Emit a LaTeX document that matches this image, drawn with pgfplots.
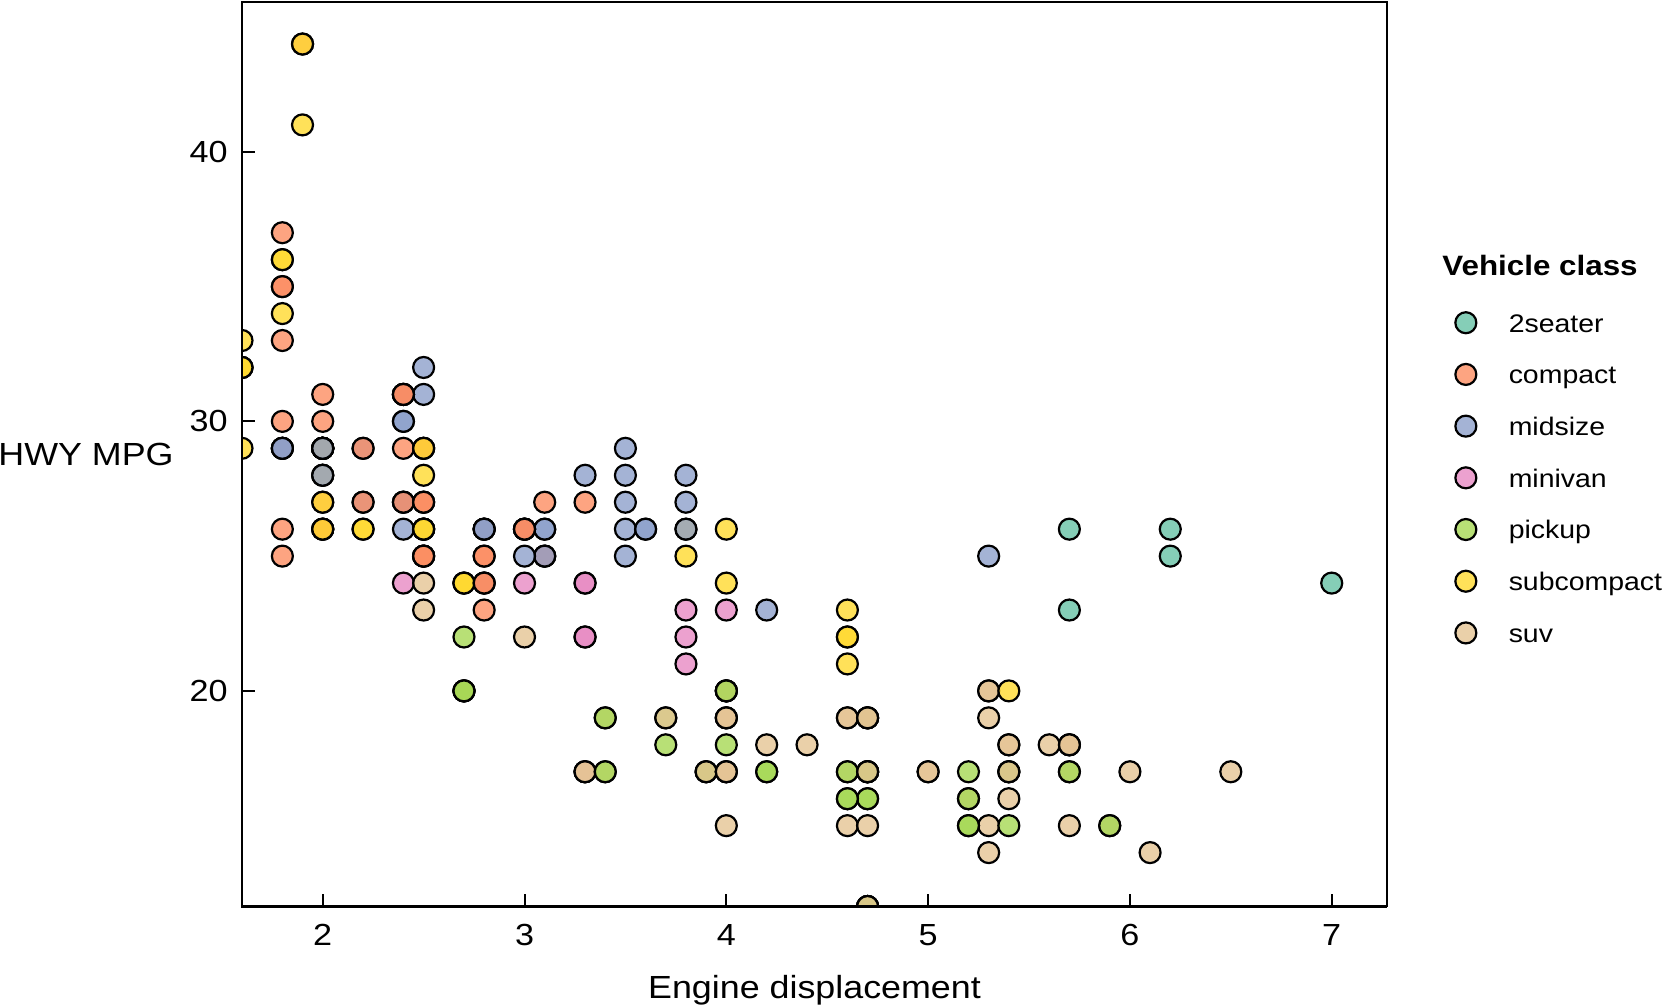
\documentclass[border=0pt]{standalone}
\usepackage{pgfplots}
\pgfplotsset{compat=1.18}
\usepackage{pgfplotstable}
\usepackage{fontspec}
\setmainfont{Liberation Sans}[FakeStretch=1.12]
\definecolor{ctwo}{HTML}{66C2A5}
\definecolor{ccomp}{HTML}{FC8D62}
\definecolor{cmid}{HTML}{8DA0CB}
\definecolor{cmini}{HTML}{E78AC3}
\definecolor{cpick}{HTML}{A6D854}
\definecolor{csub}{HTML}{FFD92F}
\definecolor{csuv}{HTML}{E5C494}
\pgfplotstableread{
x y c
1.8 29 compact
1.8 29 compact
2.0 31 compact
2.0 30 compact
2.8 26 compact
2.8 26 compact
3.1 27 compact
1.8 26 compact
1.8 25 compact
2.0 28 compact
2.0 27 compact
2.8 25 compact
2.8 25 compact
3.1 25 compact
3.1 25 compact
2.8 24 midsize
3.1 25 midsize
4.2 23 midsize
5.3 20 suv
5.3 15 suv
5.3 20 suv
5.7 17 suv
6.0 17 suv
5.7 26 twoseater
5.7 23 twoseater
6.2 26 twoseater
6.2 25 twoseater
7.0 24 twoseater
5.3 19 suv
5.3 14 suv
5.7 15 suv
6.5 17 suv
2.4 27 midsize
2.4 30 midsize
3.1 26 midsize
3.5 29 midsize
3.6 26 midsize
2.4 24 minivan
3.0 24 minivan
3.3 22 minivan
3.3 22 minivan
3.3 24 minivan
3.3 24 minivan
3.3 17 minivan
3.8 22 minivan
3.8 21 minivan
3.8 23 minivan
4.0 23 minivan
3.7 19 pickup
3.7 18 pickup
3.9 17 pickup
3.9 17 pickup
4.7 19 pickup
4.7 19 pickup
4.7 12 pickup
5.2 17 pickup
5.2 15 pickup
3.9 17 suv
4.7 17 suv
4.7 12 suv
4.7 17 suv
5.2 16 suv
5.7 18 suv
5.9 15 suv
4.7 16 pickup
4.7 12 pickup
4.7 17 pickup
4.7 17 pickup
4.7 16 pickup
4.7 12 pickup
5.2 15 pickup
5.2 16 pickup
5.7 17 pickup
5.9 15 pickup
4.6 17 suv
5.4 17 suv
5.4 18 suv
4.0 17 suv
4.0 19 suv
4.0 17 suv
4.0 19 suv
4.6 19 suv
5.0 17 suv
4.2 17 pickup
4.2 17 pickup
4.6 16 pickup
4.6 16 pickup
4.6 17 pickup
5.4 15 pickup
5.4 17 pickup
3.8 26 subcompact
3.8 25 subcompact
4.0 26 subcompact
4.0 24 subcompact
4.6 21 subcompact
4.6 22 subcompact
4.6 23 subcompact
4.6 22 subcompact
5.4 20 subcompact
1.6 33 subcompact
1.6 32 subcompact
1.6 32 subcompact
1.6 29 subcompact
1.6 32 subcompact
1.8 34 subcompact
1.8 36 subcompact
1.8 36 subcompact
2.0 29 subcompact
2.4 26 midsize
2.4 27 midsize
2.4 30 midsize
2.4 31 midsize
2.5 26 midsize
2.5 26 midsize
3.3 28 midsize
2.0 26 subcompact
2.0 29 subcompact
2.0 28 subcompact
2.0 27 subcompact
2.7 24 subcompact
2.7 24 subcompact
2.7 24 subcompact
3.0 22 suv
3.7 19 suv
4.0 20 suv
4.7 17 suv
4.7 12 suv
4.7 19 suv
5.7 18 suv
6.1 14 suv
4.0 15 suv
4.2 18 suv
4.4 18 suv
4.6 15 suv
5.4 17 suv
5.4 16 suv
5.4 18 suv
4.0 17 suv
4.0 19 suv
4.6 19 suv
5.0 17 suv
2.4 29 compact
2.4 27 compact
2.5 31 midsize
2.5 32 midsize
3.5 27 midsize
3.5 26 midsize
3.0 26 midsize
3.0 25 midsize
3.5 25 midsize
3.3 17 suv
3.3 17 suv
4.0 20 suv
5.6 18 suv
3.1 26 midsize
3.8 26 midsize
3.8 27 midsize
3.8 28 midsize
5.3 25 midsize
2.5 25 suv
2.5 24 suv
2.5 27 suv
2.5 25 suv
2.5 26 suv
2.5 23 suv
2.2 26 subcompact
2.2 26 subcompact
2.5 26 subcompact
2.5 26 subcompact
2.5 27 compact
2.5 25 compact
2.5 27 compact
2.5 25 compact
2.7 20 suv
2.7 20 suv
3.4 19 suv
3.4 17 suv
4.0 20 suv
4.7 19 suv
2.2 27 midsize
2.2 29 midsize
2.4 31 midsize
2.4 31 midsize
3.0 26 midsize
3.0 26 midsize
3.5 28 midsize
2.2 27 compact
2.2 29 compact
2.4 31 compact
2.4 31 compact
3.0 26 compact
3.0 26 compact
3.3 27 compact
1.8 30 compact
1.8 33 compact
1.8 35 compact
1.8 37 compact
1.8 35 compact
4.7 15 suv
5.7 18 suv
2.7 20 pickup
2.7 20 pickup
2.7 22 pickup
3.4 17 pickup
3.4 19 pickup
4.0 18 pickup
4.0 20 pickup
2.0 29 compact
2.0 26 compact
2.0 29 compact
2.0 29 compact
2.8 24 compact
1.9 44 compact
2.0 29 compact
2.0 26 compact
2.0 29 compact
2.0 29 compact
2.5 29 compact
2.5 29 compact
2.8 23 compact
2.8 24 compact
1.9 44 subcompact
1.9 41 subcompact
2.0 29 subcompact
2.0 26 subcompact
2.5 28 subcompact
2.5 29 subcompact
1.8 29 midsize
1.8 29 midsize
2.0 28 midsize
2.0 29 midsize
2.8 26 midsize
2.8 26 midsize
3.6 26 midsize
}\mpg
\tikzset{dotmark/.style={mark=*, draw=black, line width=1.1pt, fill opacity=0.8, fill=#1}}
\begin{document}
\begin{tikzpicture}
\useasboundingbox (0pt,0pt) rectangle (832.5pt,-503pt);
\clip (0pt,0pt) rectangle (832.5pt,-503pt);
\begin{axis}[
  at={(121pt,-453.25pt)}, anchor=south west,
  width=572.5pt, height=452.25pt, scale only axis,
  xmin=1.6, xmax=7.274, ymin=12, ymax=45.56,
  clip marker paths=true,
  xtick={2,3,4,5,6,7}, ytick={20,30,40},
  tick pos=left,
  tick align=inside, major tick length=6.5pt,
  tick style={line width=1pt, black},
  axis line style={line width=0.75pt},
  /pgf/number format/assume math mode=true,
  ticklabel style={font=\fontsize{15.25}{15.25}\selectfont, inner sep=0pt},
  xticklabel style={anchor=base, yshift=-19.25pt},
  yticklabel style={anchor=east, xshift=-7pt},
  xlabel={Engine displacement},
  ylabel={HWY MPG},
  label style={font=\fontsize{16}{16}\selectfont, inner sep=0pt},
  xlabel style={at={(axis description cs:0.5,0)}, anchor=base, yshift=-45.75pt},
  ylabel style={rotate=-90, at={(axis description cs:0,0.5)}, anchor=east, xshift=-34pt},
  mark size=5.25pt,
  legend style={at={(axis description cs:1.0597,0.6637)}, anchor=north west,
    draw=none, fill=none, inner sep=0pt, outer sep=0pt, row sep=0pt, column sep=16.2pt,
    font=\fontsize{12.7}{12.7}\selectfont,
    nodes={inner sep=0pt, text height=12.925pt, text depth=12.925pt}},
  legend cell align=left,
  legend image code/.code={\draw[#1] plot coordinates {(0pt,4.65pt)};},
  scatter/classes={
    twoseater={dotmark=ctwo},
    compact={dotmark=ccomp},
    midsize={dotmark=cmid},
    minivan={dotmark=cmini},
    pickup={dotmark=cpick},
    subcompact={dotmark=csub},
    suv={dotmark=csuv}},
]
\addplot[scatter, only marks, scatter src=explicit symbolic] table[x=x, y=y, meta=c] {\mpg};
\legend{2seater,compact,midsize,minivan,pickup,subcompact,suv}
\end{axis}
\draw[line width=1.1pt] (121pt,-1pt) -- (121pt,-453.25pt) -- (693.5pt,-453.25pt);
\node[anchor=base west, inner sep=0pt, font=\fontsize{14}{14}\selectfont\bfseries] at (721pt,-137.5pt) {Vehicle class};
\end{tikzpicture}
\end{document}
